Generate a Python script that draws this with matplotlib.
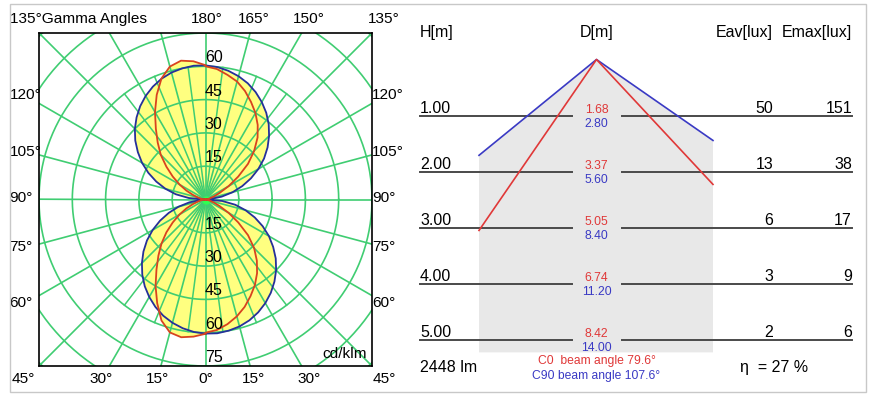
import matplotlib.pyplot as plt
from matplotlib.patches import Rectangle
import numpy as np

plt.rcParams['font.family'] = ['Liberation Sans', 'DejaVu Sans']

# polar curves in cd/klm, gamma 0..180 every 5 deg
gamma = np.arange(0, 181, 5)
c0 = [60, 59, 57, 54.5, 51.5, 48, 44.5, 40.5, 36, 31, 25, 18, 12, 7, 4, 2, 1, 0.5, 0,
      0.5, 1, 2, 4, 7, 12, 18, 25, 31, 36.5, 41, 45, 48.5, 52, 55, 57, 59, 60]
c180 = [60.5, 62, 63, 62, 58, 51.5, 45, 38.5, 33, 28, 23, 18, 13.5, 9.5, 6, 3.5, 2, 1, 0,
        1, 2, 3.5, 6, 9.5, 13.5, 18, 23, 28.5, 33.5, 39, 45.5, 52, 58, 62, 63.5, 62.5, 60.5]
c90 = [60.4, 60.5, 60.0, 59.2, 57.9, 56.1, 53.9, 51.3, 48.3, 45.0, 41.3, 37.2, 33.0, 28.4,
       23.6, 18.7, 13.6, 7.5, 0,
       2.1, 7.4, 12.6, 17.6, 22.6, 27.5, 32.2, 36.5, 40.5, 44.3, 47.7, 50.7, 53.4, 55.7,
       57.5, 58.9, 59.9, 60.4]
c270 = [60.4, 59.9, 58.9, 57.5, 55.7, 53.4, 50.7, 47.7, 44.3, 40.5, 36.5, 32.2, 27.5, 22.6,
        17.6, 12.6, 7.4, 2.1, 0,
        7.5, 13.6, 18.7, 23.6, 28.4, 33.0, 37.2, 41.3, 45.0, 48.3, 51.3, 53.9, 56.1, 57.9,
        59.2, 60.0, 60.5, 60.4]

ring_labels = [15, 30, 45, 60, 75]
top_labels = ["180°", "165°", "150°", "135°"]
side_labels = ["120°", "105°", "90°", "75°", "60°"]
bottom_labels = ["30°", "15°", "0°", "15°", "30°"]

# beam table
heights = [1, 2, 3, 4, 5]
d_c0 = ["1.68", "3.37", "5.05", "6.74", "8.42"]
d_c90 = ["2.80", "5.60", "8.40", "11.20", "14.00"]
eav = [50, 13, 6, 3, 2]
emax = [151, 38, 17, 9, 6]
c0_half = (34.5, 43.0)    # left / right half angles as drawn
c90_half = (50.8, 55.2)

W, H = 876, 394
fig = plt.figure(figsize=(W / 100, H / 100), dpi=100)
fig.patches.append(Rectangle((10 / W, 1 - 392 / H), 856 / W, 388 / H, transform=fig.transFigure,
                             fill=False, ec='#c8c8c8', lw=1))

# ---- polar diagram ----
ax = fig.add_axes([39 / W, 1 - 366 / H, 333 / W, 333 / H])
ax.set_xlim(-75, 75)
ax.set_ylim(-75, 75)
ax.set_xticks([])
ax.set_yticks([])
for s in ax.spines.values():
    s.set_linewidth(1.2)

g = np.radians(gamma)


def curve(right, left):
    r1 = np.array(right)
    r2 = np.array(left)
    x = np.concatenate([r1 * np.sin(g), -r2[::-1] * np.sin(g[::-1])])
    y = np.concatenate([-r1 * np.cos(g), -r2[::-1] * np.cos(g[::-1])])
    return x, y


bx, by = curve(c90, c270)
rx, ry = curve(c0, c180)
ax.fill(bx, by, color='#ffff80', lw=0, zorder=1)
ax.fill(rx, ry, color='#ffff80', lw=0, zorder=1)

grid_col = '#40cd72'
t = np.linspace(0, 2 * np.pi, 300)
for r in range(15, 120, 15):
    ax.plot(r * np.cos(t), r * np.sin(t), color=grid_col, lw=1.2, zorder=2)
for a in range(0, 360, 15):
    ar = np.radians(a)
    ax.plot([0, 120 * np.sin(ar)], [0, -120 * np.cos(ar)], color=grid_col, lw=1.2, zorder=2)
# finer spokes near the centre
for a in np.arange(-37.5, 40, 15):
    for base in (0, 180):
        ar = np.radians(a + base)
        ax.plot([0, 60 * np.sin(ar)], [0, -60 * np.cos(ar)], color=grid_col, lw=1.1, zorder=2)
ax.plot(0, 0, 'o', color='#30ff50', ms=5, zorder=3)

ax.plot(bx, by, color='#25309a', lw=1.3, zorder=4)
ax.plot(rx, ry, color='#d8431f', lw=1.3, zorder=4)

for v in ring_labels:
    ax.text(-0.3, -v + 3.8, str(v), ha='left', va='center', fontsize=11.5, zorder=5)
    if v < 75:
        ax.text(-0.3, v + 3.8, str(v), ha='left', va='center', fontsize=11.5, zorder=5)

fs = 11.1
ax.text(-88.2, 81.2, "135°Gamma Angles", ha='left', va='center', fontsize=fs, clip_on=False)
for lab, x in zip(top_labels, [0.7, 21.8, 46.6, 80.4]):
    ax.text(x, 81.2, lab, ha='center', va='center', fontsize=fs, clip_on=False)
for lab, y in zip(side_labels, [47.0, 21.4, 0.7, -21.4, -46.6]):
    ax.text(-88.2, y, lab, ha='left', va='center', fontsize=fs, clip_on=False)
    ax.text(75.0, y, lab, ha='left', va='center', fontsize=fs, clip_on=False)
ax.text(-87.5, -80.8, "45°", ha='left', va='center', fontsize=fs, clip_on=False)
ax.text(80.4, -80.8, "45°", ha='center', va='center', fontsize=fs, clip_on=False)
for lab, x in zip(bottom_labels, [-47.0, -21.6, 0.2, 21.8, 46.6]):
    ax.text(x, -80.8, lab, ha='center', va='center', fontsize=fs, clip_on=False)
ax.text(72.8, -69.6, "cd/klm", ha='right', va='center', fontsize=fs, zorder=5)

# ---- beam table (meters, 56 px per m) ----
pxm = 56.0
x0, h0 = 596.5, 59.5
ax2 = fig.add_axes([410 / W, 0, 460 / W, 1])
ax2.set_xlim((410 - x0) / pxm, (870 - x0) / pxm)
ax2.set_ylim((394 - h0) / pxm, (0 - h0) / pxm)
ax2.axis('off')

bl, br = -2.098, 2.08
bottom = 5.23
hb = (bl / -np.tan(np.radians(c90_half[0])), br / np.tan(np.radians(c90_half[1])))
hr = (bl / -np.tan(np.radians(c0_half[0])), br / np.tan(np.radians(c0_half[1])))
ax2.fill([bl, 0, br, br, bl], [hb[0], 0, hb[1], bottom, bottom], color='#e8e8e8', lw=0, zorder=1)
ax2.plot([bl, 0, br], [hb[0], 0, hb[1]], color='#3a3ac4', lw=1.2, zorder=3)
ax2.plot([bl, 0, br], [hr[0], 0, hr[1]], color='#e03838', lw=1.2, zorder=3)

bf = 11.5
hy = (33 - h0) / pxm
ax2.text(-3.152, hy, "H[m]", ha='left', va='center', fontsize=bf)
ax2.text(0, hy, "D[m]", ha='center', va='center', fontsize=bf)
ax2.text(3.152, hy, "Eav[lux]", ha='right', va='center', fontsize=bf)
ax2.text(4.562, hy, "Emax[lux]", ha='right', va='center', fontsize=bf)

for h, dr, db, ea, em in zip(heights, d_c0, d_c90, eav, emax):
    ax2.plot([-3.15, -0.44], [h, h], color='#4a4a4a', lw=1.4, zorder=2)
    ax2.plot([0.455, 4.562], [h, h], color='#4a4a4a', lw=1.4, zorder=2)
    ax2.text(-3.152, h - 0.04, f"{h:.2f}", ha='left', va='baseline', fontsize=bf)
    ax2.text(3.152, h - 0.04, str(ea), ha='right', va='baseline', fontsize=bf)
    ax2.text(4.562, h - 0.04, str(em), ha='right', va='baseline', fontsize=bf)
    ax2.text(0, h - 0.107, dr, ha='center', va='center', fontsize=8.7, color='#e03838')
    ax2.text(0, h + 0.143, db, ha='center', va='center', fontsize=8.7, color='#3a3ac4')

ax2.text(-3.152, (367 - h0) / pxm, "2448 lm", ha='left', va='center', fontsize=bf)
ax2.text(0, (361 - h0) / pxm, "C0  beam angle 79.6°", ha='center', va='center', fontsize=8.7,
         color='#e03838')
ax2.text(0, (376 - h0) / pxm, "C90 beam angle 107.6°", ha='center', va='center', fontsize=8.7,
         color='#3a3ac4')
ax2.text((740 - x0) / pxm, (367 - h0) / pxm, "η  = 27 %", ha='left', va='center', fontsize=bf)

fig.savefig("out.png", dpi=100)
